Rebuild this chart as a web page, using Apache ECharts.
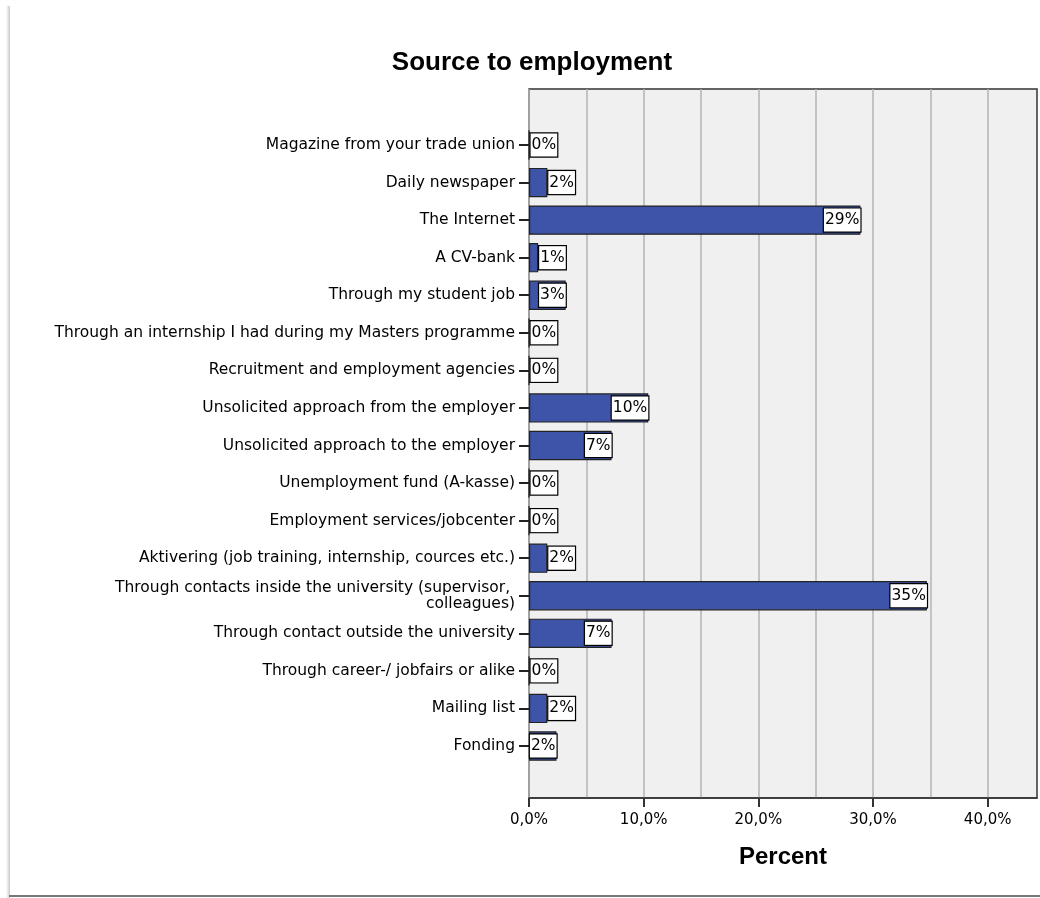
<!DOCTYPE html>
<html>
<head>
<meta charset="utf-8">
<script src="https://cdn.jsdelivr.net/npm/echarts@6/dist/echarts.min.js"></script>
<style>
html,body{margin:0;padding:0;background:#fff;}
#chart{width:1040px;height:898px;}
</style>
</head>
<body>
<div id="chart"></div>
<script>
const titleText = 'Source to employment';
const axisTitle = 'Percent';
const categories = [
  'Magazine from your trade union',
  'Daily newspaper',
  'The Internet',
  'A CV-bank',
  'Through my student job',
  'Through an internship I had during my Masters programme',
  'Recruitment and employment agencies',
  'Unsolicited approach from the employer',
  'Unsolicited approach to the employer',
  'Unemployment fund (A-kasse)',
  'Employment services/jobcenter',
  'Aktivering (job training, internship, cources etc.)',
  'Through contacts inside the university (supervisor, colleagues)',
  'Through contact outside the university',
  'Through career-/ jobfairs or alike',
  'Mailing list',
  'Fonding'
];
const percentValues = [0, 1.6, 28.9, 0.8, 3.2, 0, 0, 10.4, 7.2, 0, 0, 1.6, 34.7, 7.2, 0, 1.6, 2.4];
const xTickValues = [0, 10, 20, 30, 40];
const xMax = 44.3;

const FONT = '"Liberation Sans", Arial, sans-serif';
const LFONT = '"DejaVu Sans", Verdana, sans-serif';
const insideThreshold = 2.3;

const seriesData = percentValues.map(v => ({
  value: v,
  label: v >= insideThreshold
    ? { position: 'insideRight', distance: 0 }
    : { position: 'right', distance: 1 }
}));

const chart = echarts.init(document.getElementById('chart'), null, {renderer: 'canvas'});
chart.setOption({
  backgroundColor: '#ffffff',
  animation: false,
  title: {
    text: titleText,
    left: 527,
    textAlign: 'center',
    top: 45,
    textStyle: {fontFamily: FONT, fontWeight: 'bold', fontSize: 26, color: '#000'}
  },
  graphic: [
    {type: 'rect', shape: {x: 6, y: 6, width: 4, height: 892}, style: {fill: {type: 'linear', x: 0, y: 0, x2: 1, y2: 0, colorStops: [{offset: 0, color: 'rgba(200,200,200,0)'}, {offset: 1, color: '#c8c8c8'}]}}, silent: true},
    {type: 'line', shape: {x1: 9, y1: 896, x2: 1040, y2: 896}, style: {stroke: '#777', lineWidth: 2}, silent: true}
  ],
  grid: [
    {left: 529, right: 3, top: 126.2, bottom: 133.2, show: false},
    {left: 529, right: 3, top: 89, bottom: 100, show: true, backgroundColor: '#f0f0f0', borderColor: '#333', borderWidth: 1.5}
  ],
  xAxis: [
    {gridIndex: 0, type: 'value', min: 0, max: xMax, show: false},
    {
      gridIndex: 1, type: 'value', min: 0, max: xMax, interval: 10,
      name: axisTitle, nameLocation: 'middle', nameGap: 47,
      nameTextStyle: {fontFamily: FONT, fontWeight: 'bold', fontSize: 24, color: '#000'},
      axisLine: {show: true, lineStyle: {color: '#333', width: 1.5}},
      axisTick: {show: true, customValues: xTickValues, length: 9, lineStyle: {color: '#333', width: 2}},
      axisLabel: {
        customValues: xTickValues, margin: 15, fontFamily: LFONT, fontSize: 15, color: '#000',
        formatter: v => v.toFixed(1).replace('.', ',') + '%'
      },
      splitLine: {show: true, lineStyle: {color: '#b4b4b4', width: 1.5}},
      minorTick: {show: false, splitNumber: 2},
      minorSplitLine: {show: true, lineStyle: {color: '#b4b4b4', width: 1.5}}
    }
  ],
  yAxis: [
    {
      gridIndex: 0, type: 'category', data: categories, inverse: true,
      axisLine: {show: false},
      axisTick: {show: true, alignWithLabel: true, length: 10, lineStyle: {color: '#222', width: 2}},
      axisLabel: {
        margin: 14, fontFamily: LFONT, fontSize: 15.5, color: '#000',
        width: 470, overflow: 'break', lineHeight: 16, align: 'right'
      },
      splitLine: {show: false}
    },
    {gridIndex: 1, type: 'value', show: false}
  ],
  series: [{
    type: 'bar',
    xAxisIndex: 0, yAxisIndex: 0,
    data: seriesData,
    barCategoryGap: '22%',
    itemStyle: {color: '#3e54a8', borderColor: '#222', borderWidth: 1.2},
    label: {
      show: true,
      formatter: p => Math.round(p.value) + '%',
      fontFamily: LFONT, fontSize: 15.5, color: '#000',
      backgroundColor: '#fff', borderColor: '#000', borderWidth: 1.2,
      padding: [4, 1, 3, 1]
    }
  }]
});
</script>
</body>
</html>
